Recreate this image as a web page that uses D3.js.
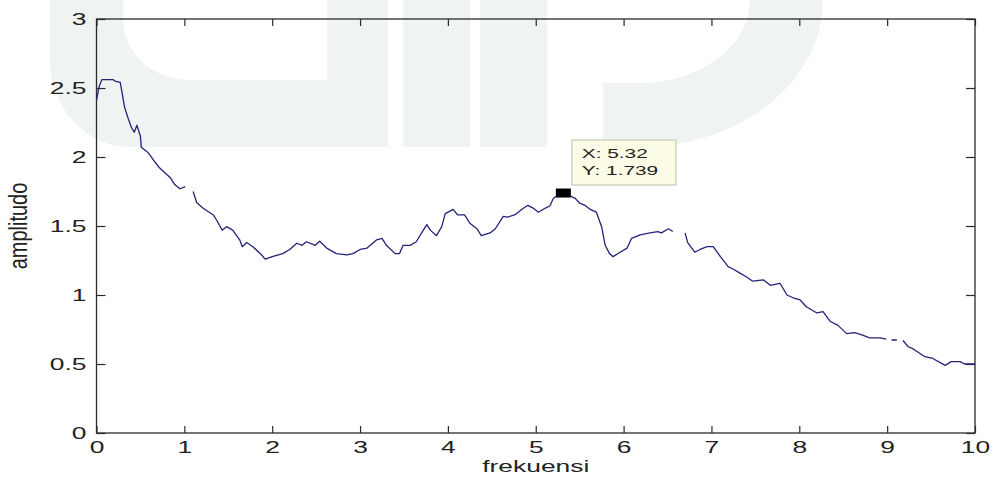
<!DOCTYPE html>
<html>
<head>
<meta charset="utf-8">
<script src="https://cdn.jsdelivr.net/npm/d3@7"></script>
<style>
  body { margin: 0; background: #ffffff; }
  svg { display: block; }
  text { font-family: "Liberation Sans", Arial, sans-serif; fill: #222; }
</style>
</head>
<body>
<svg id="chart" width="994" height="480"></svg>
<script>
// Spectrum samples: frequency (x) and amplitude (y); null marks a break in the trace
const freq = [
  0.00, 0.03, 0.06, 0.19, 0.21, 0.27, 0.29, 0.32, 0.36, 0.40, 0.43, 0.46, 0.50, 0.51,
  0.59, 0.67, 0.72, 0.84, 0.89, 0.95, 1.01, 1.05, 1.10, 1.14, 1.21, 1.33, 1.37, 1.43,
  1.48, 1.55, 1.63, 1.66, 1.71, 1.78, 1.88, 1.92, 2.01, 2.12, 2.20, 2.28, 2.34, 2.39,
  2.49, 2.54, 2.62, 2.73, 2.85, 2.92, 3.00, 3.08, 3.19, 3.25, 3.30, 3.40, 3.45, 3.49,
  3.57, 3.64, 3.72, 3.76, 3.80, 3.87, 3.93, 3.97, 4.06, 4.11, 4.19, 4.25, 4.33, 4.38,
  4.48, 4.54, 4.63, 4.68, 4.76, 4.84, 4.91, 4.97, 5.03, 5.11, 5.16, 5.20, 5.24, 5.32,
  5.45, 5.50, 5.56, 5.62, 5.69, 5.75, 5.79, 5.84, 5.88, 5.96, 6.04, 6.09, 6.19, 6.30,
  6.39, 6.43, 6.51, 6.56, 6.63, 6.70, 6.73, 6.81, 6.87, 6.95, 7.02, 7.10, 7.19, 7.24,
  7.32, 7.40, 7.47, 7.59, 7.67, 7.78, 7.86, 7.93, 8.01, 8.08, 8.20, 8.27, 8.35, 8.44,
  8.54, 8.63, 8.72, 8.80, 8.92, 8.99, 9.02, 9.05, 9.11, 9.15, 9.18, 9.24, 9.28, 9.34,
  9.43, 9.52, 9.66, 9.73, 9.83, 9.88, 10.00
];
const amp = [
  2.41, 2.51, 2.56, 2.56, 2.55, 2.54, 2.47, 2.36, 2.28, 2.21, 2.18, 2.23, 2.15, 2.07,
  2.03, 1.96, 1.92, 1.85, 1.80, 1.77, 1.785, null, 1.75, 1.67, 1.63, 1.58, 1.54, 1.47,
  1.495, 1.47, 1.40, 1.35, 1.38, 1.35, 1.29, 1.26, 1.28, 1.30, 1.33, 1.375, 1.36, 1.386,
  1.36, 1.39, 1.34, 1.30, 1.29, 1.30, 1.33, 1.34, 1.40, 1.41, 1.36, 1.30, 1.30, 1.36,
  1.36, 1.386, 1.47, 1.51, 1.47, 1.43, 1.495, 1.59, 1.62, 1.58, 1.58, 1.52, 1.48, 1.43,
  1.45, 1.48, 1.57, 1.565, 1.58, 1.62, 1.65, 1.63, 1.60, 1.63, 1.645, 1.70, 1.72, 1.739,
  1.70, 1.665, 1.65, 1.62, 1.60, 1.495, 1.36, 1.30, 1.278, 1.31, 1.34, 1.41, 1.435, 1.45,
  1.46, 1.45, 1.48, 1.46, null, 1.45, 1.38, 1.31, 1.33, 1.35, 1.35, 1.28, 1.205, 1.19,
  1.16, 1.13, 1.10, 1.11, 1.07, 1.085, 1.00, 0.98, 0.964, 0.915, 0.87, 0.88, 0.81, 0.78,
  0.72, 0.727, 0.71, 0.69, 0.69, 0.68, null, 0.674, 0.674, null, 0.67, 0.625, 0.615, 0.59,
  0.553, 0.54, 0.49, 0.517, 0.517, 0.50, 0.50
];
const xTicks = [0, 1, 2, 3, 4, 5, 6, 7, 8, 9, 10];
const yTicks = [0, 0.5, 1, 1.5, 2, 2.5, 3];
const xLabel = "frekuensi";
const yLabel = "amplitudo";
const tipX = 5.32;
const tipY = 1.739;

const svg = d3.select("#chart");
const plot = { left: 96.5, top: 19, right: 975, bottom: 433 };
const stretch = 1.65; // wide glyphs of the exported figure

const x = d3.scaleLinear().domain([0, 10]).range([plot.left, plot.right]);
const y = d3.scaleLinear().domain([0, 3]).range([plot.bottom, plot.top]);

// Faint logo watermark behind the figure
const wm = svg.append("g").attr("fill", "#eff3f1");
wm.append("path").attr("d",
  "M50,0 L50,60 A80,87 0 0 0 130,147 L388,147 L388,0 L327,0 L327,80 L190,80 A67,60 0 0 1 123,20 L123,0 Z");
wm.append("rect").attr("x", 403).attr("y", 0).attr("width", 67).attr("height", 147);
wm.append("rect").attr("x", 480).attr("y", 0).attr("width", 67).attr("height", 147);
wm.append("path").attr("d",
  "M603,83 L640,83 A110,83 0 0 0 750,0 L823,0 A183,147 0 0 1 640,147 L603,147 Z");

// Axes: ticks point inward on all four sides
const axisColor = "#2a2a2a";
function styleAxis(g) {
  g.select(".domain").remove();
  g.selectAll(".tick line").attr("stroke", axisColor).attr("stroke-width", 1.2);
  g.selectAll(".tick text").attr("fill", "#222").attr("font-size", 16)
    .attr("font-family", "'Liberation Sans', Arial, sans-serif");
}

const fmt = d => String(d);

const gx = svg.append("g").attr("transform", `translate(0,${plot.bottom})`)
  .call(d3.axisBottom(x).tickValues(xTicks).tickFormat(fmt).tickSizeInner(-7).tickSizeOuter(0).tickPadding(9));
styleAxis(gx);
gx.selectAll(".tick text").attr("transform", `scale(${stretch},1)`);

const gxt = svg.append("g").attr("transform", `translate(0,${plot.top})`)
  .call(d3.axisTop(x).tickValues(xTicks).tickFormat("").tickSizeInner(-7).tickSizeOuter(0));
styleAxis(gxt);

const gy = svg.append("g").attr("transform", `translate(${plot.left},0)`)
  .call(d3.axisLeft(y).tickValues(yTicks).tickFormat(fmt).tickSizeInner(-9).tickSizeOuter(0).tickPadding(10));
styleAxis(gy);
gy.selectAll(".tick text").attr("x", -10 / stretch).attr("transform", `scale(${stretch},1)`);

const gyr = svg.append("g").attr("transform", `translate(${plot.right},0)`)
  .call(d3.axisRight(y).tickValues(yTicks).tickFormat("").tickSizeInner(-9).tickSizeOuter(0));
styleAxis(gyr);

// Plot box
svg.append("rect")
  .attr("x", plot.left).attr("y", plot.top)
  .attr("width", plot.right - plot.left).attr("height", plot.bottom - plot.top)
  .attr("fill", "none").attr("stroke", axisColor).attr("stroke-width", 1.3);

// Axis titles
svg.append("text")
  .attr("transform", `translate(${(plot.left + plot.right) / 2},472) scale(${stretch},1)`)
  .attr("text-anchor", "middle").attr("font-size", 16).text(xLabel);
svg.append("text")
  .attr("transform", `translate(27,${(plot.top + plot.bottom) / 2}) scale(1.3,1) rotate(-90)`)
  .attr("text-anchor", "middle").attr("font-size", 20).text(yLabel);

// Spectrum trace
const pts = freq.map((f, i) => [f, amp[i]]);
const line = d3.line()
  .defined(d => d[1] !== null)
  .x(d => x(d[0]))
  .y(d => y(d[1]));
svg.append("path")
  .datum(pts)
  .attr("d", line)
  .attr("fill", "none")
  .attr("stroke", "#23237a")
  .attr("stroke-width", 1.3)
  .attr("stroke-linejoin", "round");

// Data tip
const px = x(tipX), py = y(tipY);
svg.append("rect")
  .attr("x", px - 8).attr("y", py - 4.5)
  .attr("width", 15).attr("height", 9)
  .attr("fill", "#000");
const tip = svg.append("g").attr("transform", `translate(${px + 8},${py - 53})`);
tip.append("rect")
  .attr("width", 104).attr("height", 45)
  .attr("fill", "#fbfbe6").attr("stroke", "#c9c9b6").attr("stroke-width", 1.2);
tip.append("text")
  .attr("transform", `translate(10,18) scale(1.6,1)`)
  .attr("font-size", 13).text(`X: ${tipX}`);
tip.append("text")
  .attr("transform", `translate(10,35) scale(1.6,1)`)
  .attr("font-size", 13).text(`Y: ${tipY}`);
</script>
</body>
</html>
